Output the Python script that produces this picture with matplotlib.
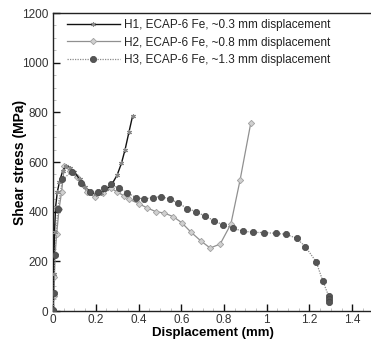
import matplotlib
matplotlib.use("Agg")
import matplotlib.pyplot as plt
from matplotlib.ticker import MultipleLocator

plt.rcParams['font.family'] = ['Liberation Sans', 'DejaVu Sans']

h1_x = [0, 0.003, 0.007, 0.012, 0.02, 0.03, 0.045, 0.06, 0.08, 0.1, 0.125, 0.15, 0.175, 0.2, 0.225,
        0.25, 0.275, 0.3, 0.32, 0.337, 0.355, 0.372]
h1_y = [0, 150, 320, 420, 480, 520, 565, 585, 578, 560, 530, 500, 480, 470, 475,
        490, 510, 548, 595, 650, 720, 785]

h2_x = [0, 0.003, 0.006, 0.01, 0.017, 0.028, 0.04, 0.053, 0.08, 0.11, 0.135, 0.158, 0.197, 0.236,
        0.27, 0.3, 0.33, 0.357, 0.4, 0.439, 0.482, 0.52, 0.563, 0.602, 0.644, 0.691, 0.735,
        0.782, 0.832, 0.875, 0.925]
h2_y = [0, 60, 138, 230, 311, 410, 480, 584, 565, 540, 510, 480, 458, 475,
        495, 480, 465, 450, 433, 416, 400, 395, 380, 356, 319, 283, 254,
        270, 350, 527, 756]

h3_x = [0, 0.002, 0.005, 0.008, 0.022, 0.044, 0.087, 0.131, 0.173, 0.212, 0.24, 0.272, 0.31, 0.348,
        0.387, 0.426, 0.467, 0.506, 0.548, 0.587, 0.629, 0.67, 0.712, 0.754, 0.797, 0.844,
        0.888, 0.938, 0.988, 1.041, 1.091, 1.14, 1.181, 1.231, 1.262, 1.29, 1.29, 1.29]
h3_y = [0, 4, 74, 225, 413, 530, 561, 517, 478, 478, 497, 510, 494, 477,
        457, 451, 457, 461, 451, 434, 413, 400, 382, 364, 346, 333,
        322, 317, 316, 313, 309, 293, 259, 199, 122, 60, 47, 36]

labels = ["H1, ECAP-6 Fe, ~0.3 mm displacement",
          "H2, ECAP-6 Fe, ~0.8 mm displacement",
          "H3, ECAP-6 Fe, ~1.3 mm displacement"]

fig = plt.figure(figsize=(3.71, 3.43), dpi=100)
ax = fig.add_axes([0.143, 0.093, 0.864, 0.869])

ax.plot(h1_x, h1_y, color='#111111', lw=1.0, marker=(6, 2, 0), ms=3.5, mec='#888888', mew=0.8,
        label=labels[0], zorder=3)
ax.plot(h2_x, h2_y, color='#909090', lw=0.9, marker='D', ms=3.2, mfc='#d0d0d0', mec='#a0a0a0',
        mew=0.6, label=labels[1], zorder=2)
ax.plot(h3_x, h3_y, color='#8a8a8a', lw=0.9, ls=(0, (1, 1)), marker='o', ms=4.5, mfc='#555555',
        mec='#444444', mew=0.5, label=labels[2], zorder=4)

ax.set_xlim(0, 1.5)
ax.set_ylim(0, 1200)
ax.yaxis.set_major_locator(MultipleLocator(200))
ax.xaxis.set_minor_locator(MultipleLocator(0.05))
ax.yaxis.set_minor_locator(MultipleLocator(50))
ax.set_xticks([0, 0.2, 0.4, 0.6, 0.8, 1.0, 1.2, 1.4])
ax.set_xticklabels(['0', '0.2', '0.4', '0.6', '0.8', '1', '1.2', '1.4'])
ax.tick_params(which='major', direction='in', length=5, width=1.0, labelsize=8.5, colors='#111111',
               top=False, right=False)
ax.tick_params(axis='x', which='major', pad=2)
ax.tick_params(which='minor', direction='in', length=2, width=0.5, color='#aaaaaa', top=False, right=False)
ax.tick_params(axis='both', labelcolor='#333333')
for s in ax.spines.values():
    s.set_linewidth(1.0)
    s.set_color('#222222')

ax.set_xlabel('Displacement (mm)', fontsize=9.5, fontweight='bold', labelpad=1)
ax.set_ylabel('Shear stress (MPa)', fontsize=10, fontweight='bold', labelpad=-4)

leg = ax.legend(loc='upper left', frameon=False, fontsize=8.5, handlelength=4.5,
                borderaxespad=0.2, labelspacing=0.45, handletextpad=0.4, bbox_to_anchor=(0.02, 1.003))
for t in leg.get_texts():
    t.set_color('#222222')

fig.savefig('out.png', dpi=100)
